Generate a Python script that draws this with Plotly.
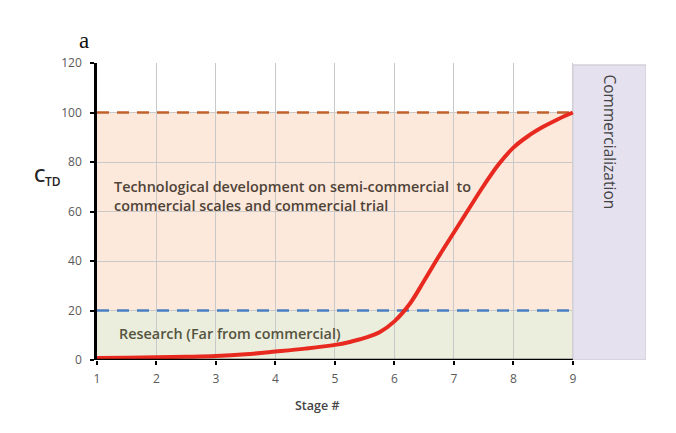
import plotly.graph_objects as go

# Data
stages = [1, 1.5, 2, 2.5, 3, 3.5, 4, 4.5, 5, 5.25, 5.5, 5.75, 6, 6.25, 6.5, 6.75,
          7, 7.25, 7.5, 7.75, 8, 8.25, 8.5, 8.75, 9]
ctd = [0.8, 0.9, 1.1, 1.3, 1.6, 2.3, 3.4, 4.6, 6.1, 7.3, 8.9, 11.2, 15.6, 22.4, 32.0, 42.0,
       51.5, 61.0, 70.4, 79.0, 85.8, 90.5, 94.2, 97.3, 100]
x_ticks = [1, 2, 3, 4, 5, 6, 7, 8, 9]
y_ticks = [0, 20, 40, 60, 80, 100, 120]
research_level = 20
commercial_level = 100

fig = go.Figure()

fig.add_trace(go.Scatter(
    x=stages, y=ctd, mode="lines",
    line=dict(color="#e8291f", width=4, shape="spline", smoothing=1.0),
    showlegend=False, hoverinfo="skip"))

shapes = []
shapes.append(dict(type="rect", xref="x", yref="y", x0=1, x1=9, y0=0, y1=research_level,
                   fillcolor="#ebeedd", line=dict(width=0), layer="below"))
shapes.append(dict(type="rect", xref="x", yref="y", x0=1, x1=9, y0=research_level, y1=commercial_level,
                   fillcolor="#fce9dc", line=dict(width=0), layer="below"))
shapes.append(dict(type="rect", xref="x", yref="y", x0=9, x1=10.23, y0=0, y1=119.2,
                   fillcolor="#e6e1ef", line=dict(color="#d3d0d8", width=1.5), layer="between"))
shapes.append(dict(type="line", xref="x", yref="y", x0=1, x1=9, y0=commercial_level, y1=commercial_level,
                   line=dict(color="#c0612b", width=2.5, dash="12px,8px"), layer="between"))
shapes.append(dict(type="line", xref="x", yref="y", x0=1, x1=9, y0=research_level, y1=research_level,
                   line=dict(color="#4a7fc4", width=2.5, dash="12px,8px"), layer="between"))
shapes.append(dict(type="line", xref="x", yref="y", x0=1, x1=9, y0=0, y1=0,
                   line=dict(color="black", width=2.5), layer="above"))

annotations = [
    dict(text="Technological development on semi-commercial  to<br>commercial scales and commercial trial",
         xref="paper", yref="paper", x=(112 - 97) / 549, y=(360 - 175) / 297, xanchor="left", yanchor="top",
         align="left", showarrow=False,
         font=dict(family="Open Sans", size=14.4, color="#4f4337", weight=600)),
    dict(text="Research (Far from commercial)",
         xref="paper", yref="paper", x=(117 - 97) / 549, y=(360 - 322) / 297, xanchor="left", yanchor="top",
         align="left", showarrow=False,
         font=dict(family="Open Sans", size=14.4, color="#55543f", weight=600)),
    dict(text="Commercialization", textangle=90,
         xref="paper", yref="paper", x=(610 - 97) / 549, y=(360 - 72) / 297, xanchor="center", yanchor="top",
         showarrow=False, font=dict(family="Open Sans", size=15.5, color="#444444")),
    dict(text="C", xref="paper", yref="paper", x=-(97 - 32) / 549, y=(360 - 175) / 297,
         xanchor="left", yanchor="middle", showarrow=False,
         font=dict(family="Open Sans", size=18, color="#222222", weight=600)),
    dict(text="TD", xref="paper", yref="paper", x=-(97 - 43) / 549, y=(360 - 181) / 297,
         xanchor="left", yanchor="middle", showarrow=False,
         font=dict(family="Open Sans", size=12, color="#222222", weight=600)),
    dict(text="a", xref="paper", yref="paper", x=-(97 - 77) / 549, y=(360 - 40) / 297,
         xanchor="left", yanchor="middle", showarrow=False,
         font=dict(family="Liberation Serif", size=23, color="#111111")),
    dict(text="Stage #", xref="paper", yref="paper", x=(317 - 97) / 549, y=-(405 - 360) / 297,
         xanchor="center", yanchor="middle", showarrow=False,
         font=dict(family="Open Sans", size=12.5, color="#444444", weight=600)),
]

fig.update_layout(
    width=676, height=433,
    margin=dict(l=97, r=30, t=63, b=73),
    paper_bgcolor="white", plot_bgcolor="white",
    shapes=shapes, annotations=annotations,
    xaxis=dict(range=[1, 10.23], tickvals=x_ticks, ticktext=[str(v) for v in x_ticks],
               showgrid=True, gridcolor="#c9c9c9", gridwidth=1, zeroline=False, showline=False,
               ticks="outside", ticklen=4, tickwidth=2, tickcolor="black", ticklabelstandoff=4,
               tickfont=dict(family="Open Sans", size=12, color="#595959")),
    yaxis=dict(range=[0, 120], tickvals=y_ticks, ticktext=[str(v) for v in y_ticks],
               showgrid=True, gridcolor="#c9c9c9", gridwidth=1, zeroline=False,
               showline=True, linecolor="black", linewidth=2.5,
               ticks="outside", ticklen=4, tickwidth=2, tickcolor="black", ticklabelstandoff=6,
               tickfont=dict(family="Open Sans", size=12, color="#595959")),
)

fig.write_html("out.html")
